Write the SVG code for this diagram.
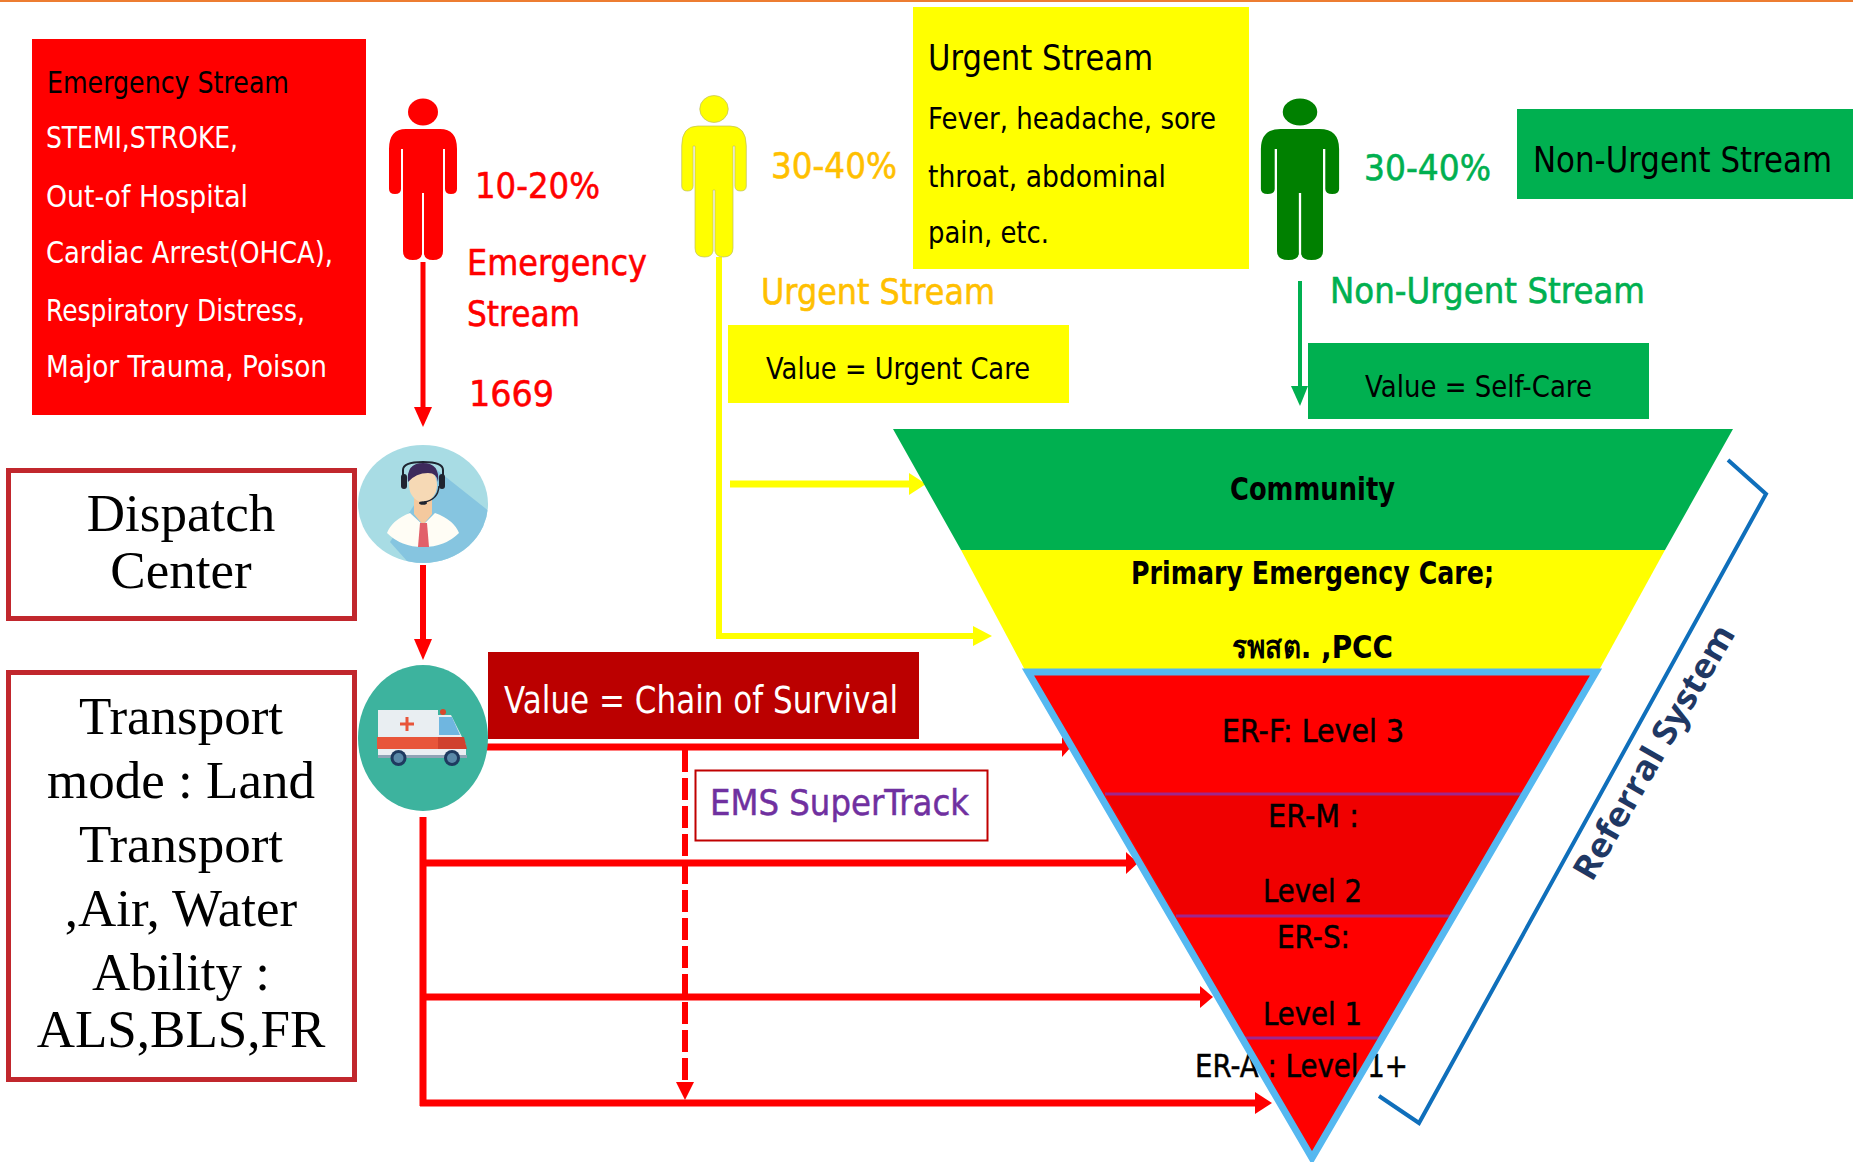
<svg xmlns="http://www.w3.org/2000/svg" width="1853" height="1162" viewBox="0 0 1853 1162">
<style>
text{font-family:"DejaVu Sans","Liberation Sans","Noto Sans",sans-serif}
.s{font-size:30px;fill:#000}
.w{font-size:30px;fill:#fff}
.b{font-size:32px;fill:#000;font-weight:bold}
.e{font-size:32px;fill:#000;stroke:#000;stroke-width:.5}
.r{font-size:36px;fill:#f00;stroke:#f00;stroke-width:.6}
.o{font-size:36px;fill:#ffc000;stroke:#ffc000;stroke-width:.6}
.g{font-size:36px;fill:#00b050;stroke:#00b050;stroke-width:.6}
.t{font-family:"Liberation Serif","Times New Roman",serif;font-size:53px;fill:#000;text-anchor:middle}
.box{fill:#fff;stroke:#c1272d;stroke-width:5}
.lv{stroke:#a0268c;stroke-width:3}
.cr{stroke:#f00;stroke-width:7;fill:none}
.cy{stroke:#ff0;stroke-width:6;fill:none}
</style>
<defs>
<g id="person">
<ellipse cx="0" cy="13" rx="15" ry="13.500"/>
<path d="M-17,30H17Q34,30 34,50V90Q34,95 28,95Q22,95 22,90V50H20V152Q20,161 10,161Q2,161 1,155V94H-1V155Q-2,161 -10,161Q-20,161 -20,152V50H-22V90Q-22,95 -28,95Q-34,95 -34,90V50Q-34,30 -17,30Z"/>
</g>
<clipPath id="dc"><ellipse cx="423" cy="504" rx="65" ry="59"/></clipPath>
</defs>
<rect id="top-rule" x="0" y="0" width="1853" height="2" fill="#ed7d31"/>
<g id="connectors">
<path d="M423,262V410" stroke="#f00" stroke-width="5" fill="none"/>
<path d="M414,407H432L423,427Z" fill="#f00"/>
<path d="M423,565V642" stroke="#f00" stroke-width="6" fill="none"/>
<path d="M414,639H432L423,660Z" fill="#f00"/>
<path d="M486,747H1064" class="cr"/>
<path d="M1062,737L1071,747L1062,757Z" fill="#f00"/>
<path d="M423,817V1106" class="cr"/>
<path d="M423,863H1128" class="cr"/>
<path d="M1126,852L1138,863L1126,874Z" fill="#f00"/>
<path d="M423,997H1202" class="cr"/>
<path d="M1200,986L1213,997L1200,1008Z" fill="#f00"/>
<path d="M420,1103H1257" class="cr"/>
<path d="M1255,1092L1272,1103L1255,1114Z" fill="#f00"/>
<path d="M685,750V1084" stroke="#f00" stroke-width="6" stroke-dasharray="22 6" fill="none"/>
<path d="M676,1082H694L685,1100Z" fill="#f00"/>
<path d="M719,257V636H975" class="cy"/>
<path d="M973,626L992,636L973,646Z" fill="#ff0"/>
<path d="M730,484H911" stroke="#ff0" stroke-width="7" fill="none"/>
<path d="M909,473L926,484L909,495Z" fill="#ff0"/>
<path d="M1300,281V388" stroke="#00b050" stroke-width="4" fill="none"/>
<path d="M1291,386H1308L1300,406Z" fill="#00b050"/>
</g>
<g id="emergency-box">
<rect x="32" y="39" width="334" height="376" fill="#f00"/>
<text class="s" x="47" y="93" textLength="242" lengthAdjust="spacingAndGlyphs">Emergency Stream</text>
<text class="w" x="46" y="148" textLength="192" lengthAdjust="spacingAndGlyphs">STEMI,STROKE,</text>
<text class="w" x="46" y="207" textLength="202" lengthAdjust="spacingAndGlyphs">Out-of Hospital</text>
<text class="w" x="46" y="263" textLength="287" lengthAdjust="spacingAndGlyphs">Cardiac Arrest(OHCA),</text>
<text class="w" x="46" y="321" textLength="259" lengthAdjust="spacingAndGlyphs">Respiratory Distress,</text>
<text class="w" x="46" y="377" textLength="281" lengthAdjust="spacingAndGlyphs">Major Trauma, Poison</text>
</g>
<g id="emergency-person" fill="#f00">
<use href="#person" transform="translate(423,99)"/>
<text class="r" x="475" y="198" textLength="125" lengthAdjust="spacingAndGlyphs">10-20%</text>
<text class="r" x="467" y="275" textLength="180" lengthAdjust="spacingAndGlyphs">Emergency</text>
<text class="r" x="467" y="326" textLength="113" lengthAdjust="spacingAndGlyphs">Stream</text>
<text class="r" x="469" y="406" textLength="85" lengthAdjust="spacingAndGlyphs">1669</text>
</g>
<g id="urgent-person" fill="#ff0">
<use href="#person" transform="translate(714,96) scale(.95,1)" stroke="#bdbd60" stroke-width=".7"/>
<text class="o" x="771" y="178" textLength="126" lengthAdjust="spacingAndGlyphs">30-40%</text>
<text class="o" x="761" y="304" textLength="234" lengthAdjust="spacingAndGlyphs">Urgent Stream</text>
</g>
<g id="urgent-box">
<rect x="913" y="7" width="336" height="262" fill="#ff0"/>
<text class="s" x="928" y="70" style="font-size:35px" textLength="225" lengthAdjust="spacingAndGlyphs">Urgent Stream</text>
<text class="s" x="928" y="129" textLength="288" lengthAdjust="spacingAndGlyphs">Fever, headache, sore</text>
<text class="s" x="928" y="187" textLength="238" lengthAdjust="spacingAndGlyphs">throat, abdominal</text>
<text class="s" x="928" y="243" textLength="121" lengthAdjust="spacingAndGlyphs">pain, etc.</text>
</g>
<g id="urgent-value">
<rect x="728" y="325" width="341" height="78" fill="#ff0"/>
<text class="s" x="766" y="379" textLength="264" lengthAdjust="spacingAndGlyphs">Value = Urgent Care</text>
</g>
<g id="nonurgent-person" fill="#008000">
<use href="#person" transform="translate(1300,99) scale(1.15,1)"/>
<text class="g" x="1364" y="180" textLength="127" lengthAdjust="spacingAndGlyphs">30-40%</text>
<text class="g" x="1330" y="303" textLength="315" lengthAdjust="spacingAndGlyphs">Non-Urgent Stream</text>
</g>
<g id="nonurgent-box">
<rect x="1517" y="109" width="336" height="90" fill="#00b050"/>
<text class="s" x="1533" y="172" style="font-size:35px" textLength="299" lengthAdjust="spacingAndGlyphs">Non-Urgent Stream</text>
</g>
<g id="nonurgent-value">
<rect x="1308" y="343" width="341" height="76" fill="#00b050"/>
<text class="s" x="1365" y="397" textLength="227" lengthAdjust="spacingAndGlyphs">Value = Self-Care</text>
</g>
<g id="dispatch-label">
<rect class="box" x="8.500" y="470.500" width="346" height="148"/>
<text class="t" x="181" y="531">Dispatch</text>
<text class="t" x="181" y="588">Center</text>
</g>
<g id="transport-label">
<rect class="box" x="8.500" y="672.500" width="346" height="407"/>
<text class="t" x="181" y="734">Transport</text>
<text class="t" x="181" y="798">mode : Land</text>
<text class="t" x="181" y="862">Transport</text>
<text class="t" x="181" y="926">,Air, Water</text>
<text class="t" x="181" y="990">Ability :</text>
<text class="t" x="181" y="1047">ALS,BLS,FR</text>
</g>
<g id="dispatch-icon">
<ellipse cx="423" cy="504" rx="65" ry="59" fill="#a8dce4"/>
<path d="M437,470L490,512V570H415L390,542Z" fill="#86c5e0" clip-path="url(#dc)"/>
<path d="M403,484V470Q403,462 423,462Q443,462 443,470V484" fill="none" stroke="#1f2430" stroke-width="2"/>
<rect x="401" y="474" width="6" height="15" rx="3" fill="#1f2430"/>
<rect x="439" y="474" width="6" height="15" rx="3" fill="#1f2430"/>
<path d="M414,498H432V514L423,525L414,514Z" fill="#f4c99e"/>
<ellipse cx="423" cy="485" rx="14" ry="17" fill="#f6d9b5"/>
<path d="M408,482Q406,463 423,463Q440,463 438,482Q437,473 428,473Q416,473 408,482Z" fill="#3d2a5c"/>
<path d="M439,486Q438,500 424,502" fill="none" stroke="#1f2430" stroke-width="1.500"/>
<ellipse cx="423" cy="503" rx="4" ry="1.800" fill="#1f2430"/>
<path d="M387,533Q392,520 410,513L423,525L435,513Q454,520 459,533Q445,547 423,547Q401,547 387,533Z" fill="#fffdf5"/>
<path d="M420,523H427L429,547H418Z" fill="#e2606a"/>
</g>
<g id="ambulance-icon">
<ellipse cx="423" cy="738" rx="65" ry="73" fill="#3db39e"/>
<rect x="378" y="710" width="60" height="47" fill="#e9eef2"/>
<path d="M438,715H451L466,745V757H438Z" fill="#e9eef2"/>
<path d="M439,717H452L460,735H439Z" fill="#6fb6e0"/>
<rect x="377" y="737" width="61" height="12" fill="#e8553a"/>
<path d="M438,737H464L467,749H438Z" fill="#d0412e"/>
<rect x="378" y="755" width="89" height="3" fill="#8fa3b5"/>
<circle cx="398.500" cy="758" r="8" fill="#1e3a5f"/>
<circle cx="398.500" cy="758" r="5" fill="#5a89a8"/>
<circle cx="452" cy="758" r="8" fill="#1e3a5f"/>
<circle cx="452" cy="758" r="5" fill="#5a89a8"/>
<path d="M407,717V731M400,724H414" stroke="#e8553a" stroke-width="3" fill="none"/>
<circle cx="443" cy="712" r="3" fill="#d9472b"/>
</g>
<g id="chain-value">
<rect x="488" y="652" width="431" height="87" fill="#bb0000"/>
<text class="w" x="504" y="713" style="font-size:37px" textLength="394" lengthAdjust="spacingAndGlyphs">Value = Chain of Survival</text>
</g>
<g id="ems-supertrack">
<rect x="695.500" y="770.500" width="292" height="70" fill="#fff" stroke="#c00000" stroke-width="2"/>
<text x="710" y="815" style="font-size:35px;fill:#7030a0;stroke:#7030a0;stroke-width:.5" textLength="259" lengthAdjust="spacingAndGlyphs">EMS SuperTrack</text>
</g>
<g id="community">
<path d="M893,429H1733L1665,550H961Z" fill="#00b050"/>
<text class="b" x="1230" y="500" textLength="165" lengthAdjust="spacingAndGlyphs">Community</text>
</g>
<g id="primary-care">
<path d="M961,550H1665L1598,672H1026Z" fill="#ff0"/>
<text class="b" x="1131" y="584" textLength="363" lengthAdjust="spacingAndGlyphs">Primary Emergency Care;</text>
<text class="b" x="1232" y="658" textLength="161" lengthAdjust="spacingAndGlyphs">รพสต. ,PCC</text>
</g>
<g id="er-pyramid">
<path d="M1028,672H1596L1312,1158Z" fill="#f00"/>
<path d="M1105,794H1523L1451,916H1176Z" fill="#f00000"/>
<path d="M1105,794H1523M1176,916H1451M1245,1038H1380" class="lv"/>
<text class="e" x="1222" y="742" textLength="182" lengthAdjust="spacingAndGlyphs">ER-F: Level 3</text>
<text class="e" x="1268" y="827" textLength="91" lengthAdjust="spacingAndGlyphs">ER-M :</text>
<text class="e" x="1263" y="902" textLength="99" lengthAdjust="spacingAndGlyphs">Level 2</text>
<text class="e" x="1277" y="948" textLength="73" lengthAdjust="spacingAndGlyphs">ER-S:</text>
<text class="e" x="1263" y="1025" textLength="99" lengthAdjust="spacingAndGlyphs">Level 1</text>
<text class="e" x="1195" y="1077" textLength="213" lengthAdjust="spacingAndGlyphs">ER-A : Level 1+</text>
<path d="M1028,672H1596L1312,1158Z" fill="none" stroke="#55b8f0" stroke-width="7"/>
</g>
<g id="referral-system">
<path d="M1728,460L1766,494L1419,1123L1379,1096" fill="none" stroke="#0f6fbb" stroke-width="4"/>
<text x="1664" y="758" transform="rotate(-60 1664 758)" text-anchor="middle" style="font-family:'Open Sans','DejaVu Sans',sans-serif;font-size:34px;font-weight:bold;fill:#1f3864" textLength="288" lengthAdjust="spacingAndGlyphs">Referral System</text>
</g>
</svg>
